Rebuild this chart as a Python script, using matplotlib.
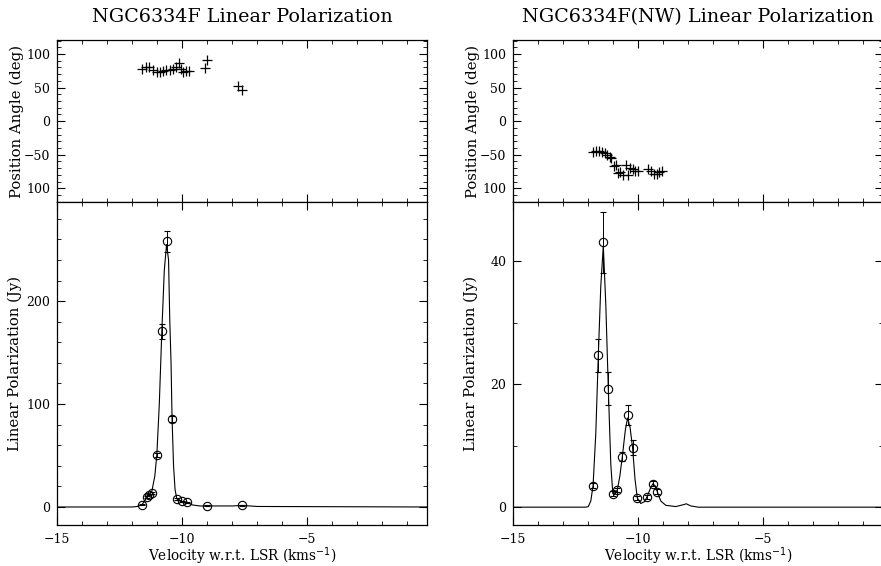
import matplotlib
matplotlib.use("Agg")
import matplotlib.pyplot as plt
from matplotlib.ticker import MultipleLocator

plt.rcParams['font.family'] = 'DejaVu Serif'

# ---- NGC6334F : position angle (deg) ----
pa_v_left = [-11.60, -11.47, -11.33, -11.16, -11.03, -10.90, -10.77, -10.64, -10.51,
             -10.37, -10.24, -10.15, -10.05, -9.96, -9.85, -9.72, -9.10, -9.00, -7.76, -7.63]
pa_left = [78, 80, 80, 77, 74, 74, 75, 76, 77, 78, 80, 86, 78, 73, 75, 75, 79, 91, 52, 46]

# ---- NGC6334F : linear polarization points (Jy) ----
lp_v_left = [-11.62, -11.42, -11.32, -11.22, -11.02, -10.82, -10.60, -10.41,
             -10.22, -10.02, -9.82, -9.03, -7.60]
lp_left = [2.2, 9.7, 12, 14, 50.8, 170.5, 258, 85.7, 8, 5.5, 4.8, 1.3, 1.6]
lp_err_left = [0.5, 0.8, 0.8, 1, 2, 7, 10, 3, 0.8, 0.5, 0.5, 0.3, 0.3]

# fitted spectrum
spec_v_left = [-15.0, -12.0, -11.8, -11.62, -11.42, -11.22, -11.1, -11.02, -10.92,
               -10.82, -10.72, -10.63, -10.55, -10.50, -10.45, -10.41, -10.35, -10.29,
               -10.22, -10.02, -9.82, -9.6, -9.3, -9.03, -8.0, -7.6, -7.0, -0.2]
spec_left = [0, 0, 0.5, 2, 9, 15, 30, 50, 100,
             170, 230, 255, 240, 180, 140, 86, 40, 17,
             8, 5.5, 4.5, 2, 1, 1, 1, 1.5, 0.5, 0]

# ---- NGC6334F(NW) : position angle (deg) ----
pa_v_right = [-11.81, -11.68, -11.57, -11.45, -11.35, -11.24, -11.15, -11.08, -10.99,
              -10.91, -10.82, -10.73, -10.62, -10.51, -10.42, -10.33, -10.22, -10.12,
              -10.02, -9.63, -9.49, -9.36, -9.27, -9.16, -9.06]
pa_right = [-46, -44, -44, -46, -48, -51, -54, -55, -67, -66, -78, -76, -80, -66,
            -80, -70, -72, -75, -75, -72, -75, -79, -79, -76, -74]

# ---- NGC6334F(NW) : linear polarization points (Jy) ----
lp_v_right = [-11.81, -11.60, -11.40, -11.20, -11.02, -10.84, -10.64, -10.43,
              -10.23, -10.04, -9.65, -9.42, -9.24]
lp_right = [3.5, 24.7, 43.1, 19.3, 2.2, 2.8, 8.2, 15, 9.7, 1.5, 1.7, 3.8, 2.5]
lp_err_right = [0.4, 2.7, 5, 2.7, 0.4, 0.4, 0.7, 1.6, 1.2, 0.3, 0.3, 0.4, 0.4]

spec_v_right = [-15.0, -12.1, -12.0, -11.9, -11.81, -11.7, -11.6, -11.5, -11.4,
                -11.3, -11.2, -11.1, -11.02, -10.95, -10.84, -10.74, -10.64, -10.52,
                -10.43, -10.33, -10.23, -10.13, -10.04, -9.9, -9.75, -9.65, -9.5,
                -9.42, -9.33, -9.24, -9.1, -8.9, -8.5, -8.2, -8.08, -7.9, -7.6, -0.2]
spec_right = [0, 0, 0.1, 1, 3.5, 12, 24.7, 36, 42.5,
              33, 19.3, 7, 2.2, 2, 2.8, 5, 8.2, 12.5,
              14.5, 13, 9.7, 4.5, 1.5, 0.6, 0.9, 1.7, 3.2,
              3.8, 3.5, 2.5, 1, 0.3, 0.1, 0.4, 0.55, 0.2, 0, 0]

titles = ["NGC6334F Linear Polarization", "NGC6334F(NW) Linear Polarization"]

W, H = 881, 566
fig = plt.figure(figsize=(W / 100, H / 100), dpi=100)


def style(ax):
    ax.tick_params(which='both', direction='in', top=True, right=True, labelsize=9)
    ax.tick_params(which='major', length=6, width=0.8)
    ax.tick_params(which='minor', length=3, width=0.6)
    ax.tick_params(axis='y', pad=5)
    for s in ax.spines.values():
        s.set_linewidth(0.9)


panels = [
    (57.3, pa_v_left, pa_left, lp_v_left, lp_left, lp_err_left, spec_v_left, spec_left,
     (-17.5, 296), 100, 20),
    (513.3, pa_v_right, pa_right, lp_v_right, lp_right, lp_err_right, spec_v_right, spec_right,
     (-2.9, 49.6), 20, 10),
]

for i, (x0, pv, pa, lv, lp, le, sv, sp, ylim, maj, mnr) in enumerate(panels):
    left = x0 / W
    width = 370 / W
    ax_t = fig.add_axes([left, 1 - 202.3 / H, width, 162.3 / H])
    ax_b = fig.add_axes([left, 1 - 525 / H, width, 322.7 / H])

    # position angle
    ax_t.plot(pv, pa, '+', color='black', ms=7, mew=0.9)
    ax_t.set_xlim(-15, -0.2)
    ax_t.set_ylim(-121, 121)
    ax_t.xaxis.set_major_locator(MultipleLocator(5))
    ax_t.xaxis.set_minor_locator(MultipleLocator(1))
    ax_t.yaxis.set_major_locator(MultipleLocator(50))
    ax_t.yaxis.set_minor_locator(MultipleLocator(10))
    ax_t.set_xticklabels([])
    ax_t.set_yticks([-100, -50, 0, 50, 100])
    ax_t.set_yticklabels(['100', '\u221250', '0', '50', '100'])
    ax_t.set_ylabel("Position Angle (deg)", fontsize=10.7)
    ax_t.yaxis.set_label_coords(-0.09, 0.5)
    ax_t.set_title(titles[i], fontsize=13.8, pad=13)
    style(ax_t)

    # linear polarization
    ax_b.plot(sv, sp, '-', color='black', lw=0.8)
    ax_b.errorbar(lv, lp, yerr=le, fmt='o', mfc='none', mec='black', color='black',
                  ms=6, mew=0.8, elinewidth=0.7, capsize=2.5)
    ax_b.set_xlim(-15, -0.2)
    ax_b.set_ylim(*ylim)
    ax_b.xaxis.set_major_locator(MultipleLocator(5))
    ax_b.xaxis.set_minor_locator(MultipleLocator(1))
    ax_b.yaxis.set_major_locator(MultipleLocator(maj))
    ax_b.yaxis.set_minor_locator(MultipleLocator(mnr))
    ax_b.set_xlabel("Velocity w.r.t. LSR (kms$^{-1}$)", fontsize=9.8)
    ax_b.xaxis.set_label_coords(0.5, -0.062)
    ax_b.set_ylabel("Linear Polarization (Jy)", fontsize=10.7)
    ax_b.yaxis.set_label_coords(-0.095, 0.5)
    style(ax_b)
    ax_b.tick_params(axis='x', pad=6)

fig.savefig("out.png", dpi=100)
